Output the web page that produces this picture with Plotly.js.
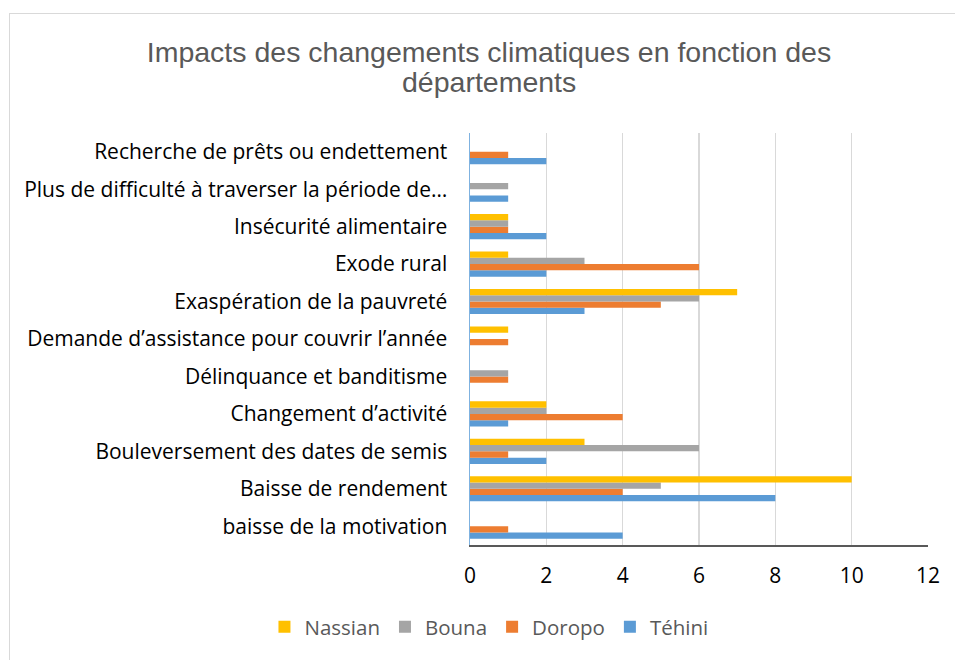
<!DOCTYPE html>
<html>
<head>
<meta charset="utf-8">
<script src="https://cdn.plot.ly/plotly-3.0.1.min.js"></script>
<style>
html,body{margin:0;padding:0;background:#fff;overflow:hidden;}
#chart{width:955px;height:660px;}
#frame{position:absolute;left:9px;top:13px;width:960px;height:660px;border:1px solid #d9d9d9;pointer-events:none;}
</style>
</head>
<body>
<div id="chart"></div>
<div id="frame"></div>
<script>
const categories = [
  "baisse de la motivation",
  "Baisse de rendement",
  "Bouleversement des dates de semis",
  "Changement d’activité",
  "Délinquance et banditisme",
  "Demande d’assistance pour couvrir l’année",
  "Exaspération de la pauvreté",
  "Exode rural",
  "Insécurité alimentaire",
  "Plus de difficulté à traverser la période de…",
  "Recherche de prêts ou endettement"
];
const tehini  = [4, 8, 2, 1, 0, 0, 3, 2, 2, 1, 2];
const doropo  = [1, 4, 1, 4, 1, 1, 5, 6, 1, 0, 1];
const bouna   = [0, 5, 6, 2, 1, 0, 6, 3, 1, 1, 0];
const nassian = [0, 10, 3, 2, 0, 1, 7, 1, 1, 0, 0];
const xTicks = [0, 2, 4, 6, 8, 10, 12];
const titleLines = ["Impacts des changements climatiques en fonction des", "départements"];

const series = [
  {name: "Téhini", values: tehini, color: "#5B9BD5"},
  {name: "Doropo", values: doropo, color: "#ED7D31"},
  {name: "Bouna", values: bouna, color: "#A5A5A5"},
  {name: "Nassian", values: nassian, color: "#FFC000"}
];

const traces = series.map(s => ({
  type: "bar",
  orientation: "h",
  name: s.name,
  y: categories,
  x: s.values,
  marker: {color: s.color},
  hoverinfo: "x+name"
}));

const labelFont = "'Open Sans', 'Noto Sans', sans-serif";
const titleFont = {family: "'Liberation Sans', Arial, sans-serif", size: 28.5, color: "#595959"};

const layout = {
  width: 955,
  height: 660,
  paper_bgcolor: "#ffffff",
  plot_bgcolor: "#ffffff",
  margin: {l: 470, r: 27, t: 133, b: 115},
  barmode: "group",
  bargap: 0.33,
  bargroupgap: 0,
  font: {family: labelFont, size: 21, color: "#000000"},
  title: {
    text: titleLines[0],
    font: titleFont,
    x: 0.512,
    xanchor: "center",
    xref: "container",
    y: 1 - 52 / 660,
    yanchor: "middle",
    yref: "container"
  },
  annotations: [{
    text: titleLines[1],
    font: titleFont,
    xref: "paper",
    yref: "paper",
    x: (489 - 470) / 458,
    y: (545 - 82) / 412,
    xanchor: "center",
    yanchor: "middle",
    showarrow: false
  }],
  xaxis: {
    range: [0, 12],
    tickvals: xTicks,
    ticktext: xTicks.map(String),
    showgrid: true,
    gridcolor: "#d9d9d9",
    gridwidth: 1.5,
    zeroline: false,
    showline: true,
    linecolor: "#595959",
    linewidth: 1.5,
    ticks: "",
    ticklabelstandoff: 11,
    tickfont: {family: labelFont, size: 21, color: "#000000"},
    fixedrange: true
  },
  yaxis: {
    type: "category",
    categoryorder: "array",
    categoryarray: categories,
    showgrid: false,
    zeroline: false,
    showline: true,
    linecolor: "#7fb2e0",
    linewidth: 1.5,
    ticks: "",
    ticklabelstandoff: 17,
    tickfont: {family: labelFont, size: 21, color: "#000000"},
    fixedrange: true
  },
  legend: {
    orientation: "h",
    x: 0.512,
    xref: "container",
    xanchor: "center",
    y: 0.02,
    yref: "container",
    yanchor: "bottom",
    traceorder: "reversed",
    font: {family: labelFont, size: 20.5, color: "#595959"},
    itemwidth: 30
  },
  showlegend: true
};

Plotly.newPlot("chart", traces, layout, {displayModeBar: false, staticPlot: true});
</script>
</body>
</html>
